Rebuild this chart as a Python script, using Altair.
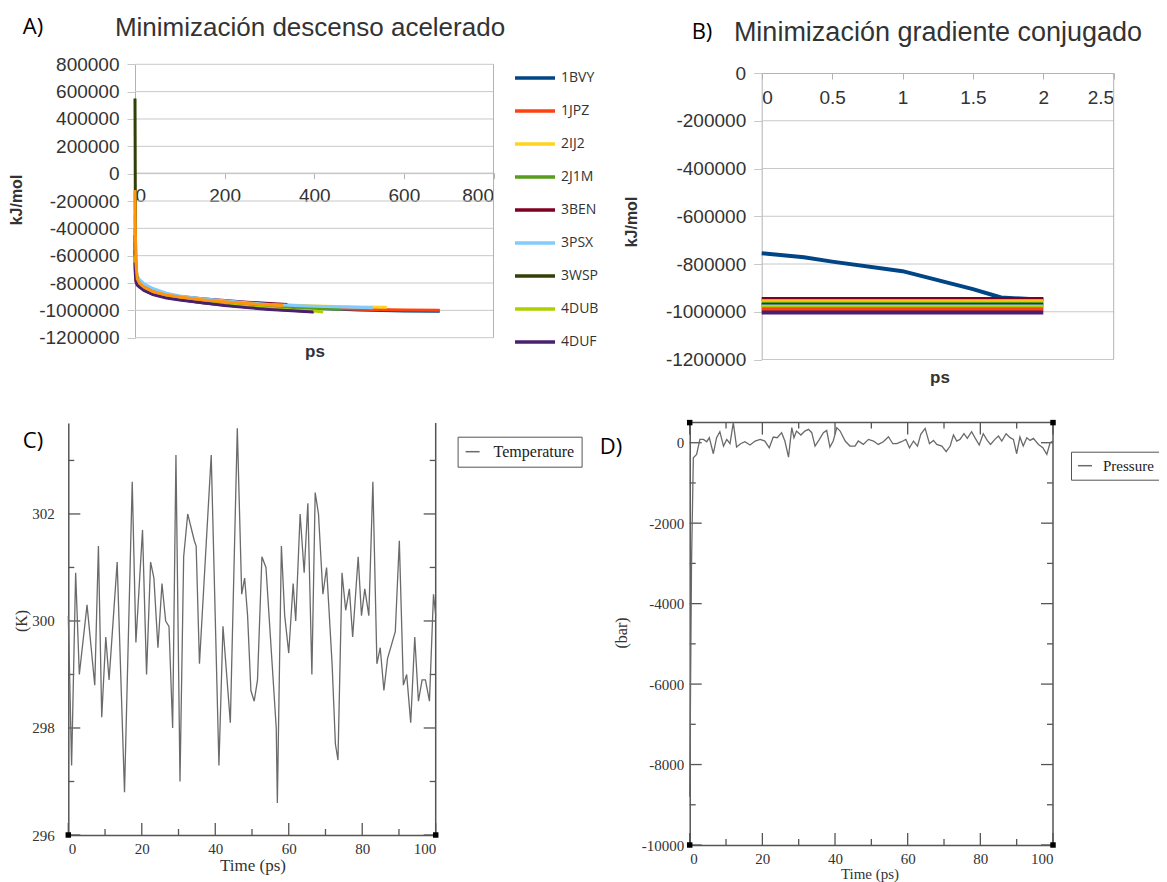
import altair as alt
import pandas as pd

W, H = 1151, 874

# ---------------- Panel A: Minimización descenso acelerado ----------------
A_names = ["1BVY", "1JPZ", "2IJ2", "2J1M", "3BEN", "3PSX", "3WSP", "4DUB", "4DUF", "Serie10"]
A_legend_names = ["1BVY", "1JPZ", "2IJ2", "2J1M", "3BEN", "3PSX", "3WSP", "4DUB", "4DUF"]
A_colors = ["#004586", "#ff420e", "#ffd320", "#579d1c", "#7e0021", "#83caff", "#314004", "#aecf00", "#4b1f6f", "#ff950e"]

A_t_1BVY = [0, 1, 2, 5, 10, 20, 40, 70, 100, 150, 200, 300, 400, 500, 600, 680]
A_v_1BVY = [-560000, -720000, -770000, -800000, -820000, -845000, -875000, -898000, -912000, -932000, -947000, -968000, -985000, -997000, -1004000, -1006000]
A_t_1JPZ = [0, 1, 2, 5, 10, 20, 40, 70, 100, 150, 200, 300, 400, 500, 600, 680]
A_v_1JPZ = [-500000, -700000, -760000, -795000, -815000, -840000, -870000, -893000, -908000, -928000, -944000, -965000, -982000, -992000, -998000, -1000000]
A_t_2IJ2 = [0, 1, 2, 5, 10, 20, 40, 70, 100, 150, 200, 300, 400, 500, 562]
A_v_2IJ2 = [-150000, -500000, -680000, -760000, -795000, -828000, -860000, -885000, -900000, -920000, -935000, -955000, -968000, -975000, -978000]
A_t_2J1M = [0, 1, 2, 5, 10, 20, 40, 70, 100, 150, 200, 300, 400, 460]
A_v_2J1M = [-400000, -650000, -740000, -790000, -812000, -840000, -870000, -895000, -910000, -930000, -945000, -968000, -985000, -992000]
A_t_3BEN = [0, 1, 2, 5, 10, 20, 40, 70, 100, 150, 200, 250, 300, 340]
A_v_3BEN = [-450000, -680000, -750000, -785000, -805000, -830000, -860000, -885000, -898000, -915000, -928000, -940000, -950000, -957000]
A_t_3PSX = [0, 1, 2, 5, 10, 20, 40, 70, 100, 150, 200, 300, 400, 531]
A_v_3PSX = [-300000, -600000, -700000, -750000, -775000, -805000, -840000, -875000, -895000, -915000, -930000, -958000, -970000, -980000]
A_t_3WSP = [0, 1, 2, 5, 10, 20, 40, 70, 100, 150, 200, 250, 300, 350, 400]
A_v_3WSP = [550000, -450000, -700000, -790000, -820000, -850000, -880000, -905000, -920000, -945000, -960000, -975000, -990000, -1000000, -1010000]
A_t_4DUB = [0, 1, 2, 5, 10, 20, 40, 70, 100, 150, 200, 250, 300, 350, 400, 420]
A_v_4DUB = [-600000, -740000, -780000, -805000, -825000, -850000, -880000, -905000, -918000, -940000, -958000, -972000, -985000, -997000, -1005000, -1012000]
A_t_4DUF = [0, 1, 2, 5, 10, 20, 40, 70, 100, 150, 200, 250, 300, 350, 398]
A_v_4DUF = [-650000, -750000, -790000, -815000, -830000, -855000, -885000, -910000, -925000, -945000, -965000, -980000, -993000, -1003000, -1012000]
A_t_S10 = [0, 1, 2, 5, 10, 20, 40, 70, 100, 150, 200, 250, 300, 330]
A_v_S10 = [-120000, -450000, -650000, -770000, -800000, -830000, -862000, -888000, -902000, -922000, -937000, -950000, -960000, -965000]

A_yticks = [-1200000, -1000000, -800000, -600000, -400000, -200000, 0, 200000, 400000, 600000, 800000]
A_xticks = [0, 200, 400, 600, 800]

# ---------------- Panel B: Minimización gradiente conjugado ----------------
B_t_1BVY = [0, 0.3, 0.5, 1.0, 1.5, 1.7, 2.0]
B_v_1BVY = [-755000, -772000, -790000, -830000, -905000, -940000, -950000]
B_t_flat = [0, 1, 2]
B_flat_names = ["3BEN", "Serie10", "2IJ2", "2J1M", "3WSP", "3PSX", "4DUB", "1JPZ", "4DUF"]
B_flat_values = [-947000, -955000, -960000, -966000, -972000, -978000, -984000, -990000, -1003000]
B_yticks = [-1200000, -1000000, -800000, -600000, -400000, -200000, 0]
B_xticks = [0, 0.5, 1, 1.5, 2, 2.5]

# ---------------- Panel C: Temperature ----------------
C_t = [0, 0.9, 2.0, 3.0, 5.1, 7.2, 8.2, 9.1, 10.2, 11.1, 13.3, 15.3, 17.4, 18.4, 20.2, 21.3, 22.4, 23.3,
       24.4, 25.5, 26.5, 27.4, 28.4, 29.3, 30.4, 31.4, 32.5, 34.3, 34.8, 35.7, 37.5, 38.9, 41.0, 42.1, 44.1,
       46.0, 47.2, 48.0, 48.8, 49.7, 50.6, 51.5, 52.7, 53.8, 56.6, 56.9, 58.0, 58.9, 60.0, 61.2, 61.9, 63.1,
       64.2, 65.2, 66.3, 67.2, 68.1, 69.3, 70.3, 71.8, 72.7, 73.4, 74.5, 75.5, 76.5, 77.4, 78.9, 79.8, 80.7,
       81.8, 82.9, 84.0, 84.9, 85.9, 86.9, 89.0, 90.1, 91.2, 92.1, 93.2, 94.3, 95.3, 96.3, 97.2, 98.3, 99.4, 100]
C_temp = [300.1, 297.3, 300.9, 299.0, 300.3, 298.8, 301.4, 298.2, 299.7, 298.9, 301.1, 296.8, 302.6, 299.6,
          301.7, 299.0, 301.1, 300.8, 299.5, 300.7, 300.0, 299.9, 298.0, 303.1, 297.0, 301.2, 302.0, 301.5,
          301.4, 299.2, 301.4, 303.1, 297.3, 299.9, 298.1, 303.6, 300.5, 300.8, 300.1, 298.7, 298.5, 298.9,
          301.2, 301.0, 298.0, 296.6, 301.4, 300.1, 299.4, 300.7, 300.0, 302.0, 300.9, 302.2, 299.0, 302.4,
          302.0, 300.5, 301.0, 299.2, 297.7, 297.4, 300.9, 300.2, 300.6, 299.7, 301.2, 300.1, 300.6, 300.1,
          302.6, 299.2, 299.5, 298.7, 299.3, 299.8, 301.5, 298.8, 299.0, 298.1, 299.7, 298.5, 298.9, 298.9,
          298.5, 300.5, 300.1]
C_yticks_major = [296, 298, 300, 302]
C_yticks_minor = [297, 299, 301, 303]
C_xticks_major = [0, 20, 40, 60, 80, 100]
C_xticks_minor = [10, 30, 50, 70, 90]

# ---------------- Panel D: Pressure ----------------
D_t = [0, 0.5, 1.0, 1.9, 2.8, 3.8, 4.7, 5.4, 6.5, 7.4, 8.3, 9.3, 10.2, 11.1, 12.0, 12.9, 14.0, 15.2, 16.6,
       18.0, 19.4, 20.7, 21.9, 23.0, 24.1, 25.3, 26.2, 27.2, 28.1, 28.7, 29.4, 30.6, 31.7, 32.7, 33.6, 34.5,
       35.7, 36.8, 37.7, 38.6, 39.5, 40.5, 41.4, 42.8, 44.1, 45.5, 46.4, 47.8, 49.2, 50.6, 51.9, 53.3, 54.7,
       55.9, 57.0, 58.3, 59.5, 60.5, 61.6, 62.7, 63.6, 64.8, 66.0, 67.1, 68.0, 69.4, 70.6, 71.7, 72.6, 73.5,
       74.4, 75.5, 76.4, 77.6, 78.5, 79.7, 80.8, 81.9, 82.8, 84.0, 85.0, 85.9, 87.1, 88.2, 89.1, 90.0, 90.9,
       91.8, 92.8, 93.7, 94.6, 96.0, 97.2, 98.3, 99.2, 100]
D_press = [-8800, -3000, -373, -290, 83, 83, 25, 125, -274, 125, 274, -83, 83, -25, 498, -108, -25, 25, -58,
           42, 83, 42, -125, 141, 125, 249, 42, -357, 374, 125, 290, 191, 290, 332, 249, -83,
           83, 249, 307, -108, 42, 374, 290, 42, -83, -83, 42, -42, 83, 42, -42, 25, 150,
           -25, -25, 25, 83, -125, 42, -83, 208, 357, -25, 58, -42, -83, -224, -83, 191, 42,
           83, 224, 108, 274, 125, -58, 224, 58, -42, 83, 166, 42, 224, 125, 83, -274, 141,
           -83, 125, 58, 108, -42, -125, -290, 0, 42]
D_yticks_major = [-10000, -8000, -6000, -4000, -2000, 0]
D_yticks_minor = [-9000, -7000, -5000, -3000, -1000]
D_xticks_major = [0, 20, 40, 60, 80, 100]
D_xticks_minor = [10, 30, 50, 70, 90]

# ---------------- build tables ----------------
A_table = {"1BVY": (A_t_1BVY, A_v_1BVY), "1JPZ": (A_t_1JPZ, A_v_1JPZ), "2IJ2": (A_t_2IJ2, A_v_2IJ2),
           "2J1M": (A_t_2J1M, A_v_2J1M), "3BEN": (A_t_3BEN, A_v_3BEN), "3PSX": (A_t_3PSX, A_v_3PSX),
           "3WSP": (A_t_3WSP, A_v_3WSP), "4DUB": (A_t_4DUB, A_v_4DUB), "4DUF": (A_t_4DUF, A_v_4DUF),
           "Serie10": (A_t_S10, A_v_S10)}
rows = []
for name, (ts, vs) in A_table.items():
    for t, v in zip(ts, vs):
        rows.append({"s": name, "t": t, "v": v})
dfA = pd.DataFrame(rows)

dfB_blue = pd.DataFrame({"s": "1BVY", "t": B_t_1BVY, "v": B_v_1BVY})
rows = []
for name, val in zip(B_flat_names, B_flat_values):
    for t in B_t_flat:
        rows.append({"s": name, "t": t, "v": val})
dfB_flat = pd.DataFrame(rows)

dfC = pd.DataFrame({"t": C_t, "T": C_temp, "s": "Temperature"})
dfD = pd.DataFrame({"t": D_t, "P": D_press, "s": "Pressure"})
dummy = pd.DataFrame({"d": [0]})

# ---------------- styles ----------------
SANS = "Liberation Sans"
SERIF = "Liberation Serif"
GRID = "#c8c8c8"
AXC = "#b3b3b3"
FRAME = "#555555"
TXT = "#333333"
LBL = "''+datum.value"

# panel pixel geometry (canvas coordinates)
xA = alt.Scale(domain=[0, 800], range=[127, 485.5], nice=False, zero=False)
yA = alt.Scale(domain=[-1200000, 800000], range=[329.7, 56.3], nice=False, zero=False)
A_zero_y = 164.7
xB = alt.Scale(domain=[0, 2.5], range=[753.7, 1105.7], nice=False, zero=False)
yB = alt.Scale(domain=[-1200000, 0], range=[351.5, 65], nice=False, zero=False)
xC = alt.Scale(domain=[0, 100], range=[60.3, 427.7], nice=False, zero=False)
yC = alt.Scale(domain=[296, 303.7], range=[827, 415], nice=False, zero=False)
xD = alt.Scale(domain=[0, 100], range=[681.7, 1045], nice=False, zero=False)
yD = alt.Scale(domain=[-10000, 500], range=[837, 414.6], nice=False, zero=False)

C_pxx = (427.7 - 60.3) / 100.0
C_pxy = (827 - 415) / 7.7
D_pxx = (1045 - 681.7) / 100.0
D_pxy = (837 - 414.6) / 10500.0
MAJ, MIN = 12, 6

layers = []

# ---- Panel A ----
axA_y = alt.Axis(orient="left", offset=-127, values=A_yticks, labelExpr=LBL, title=None, grid=False,
                 domainColor=AXC, tickColor=GRID, tickSize=8, labelPadding=8, labelFont=SANS,
                 labelFontSize=19, labelColor=TXT)
axA_x = alt.Axis(orient="bottom", offset=-(H - A_zero_y), values=A_xticks, labelExpr=LBL, title=None,
                 grid=False, domainColor=AXC, tickColor=AXC, tickSize=6, labelPadding=8, labelFont=SANS,
                 labelFontSize=19, labelColor=TXT, labelOverlap=False)
layers.append(alt.Chart(pd.DataFrame({"g": A_yticks})).mark_rule(color=GRID, strokeWidth=1).encode(
    y=alt.Y("g:Q", scale=yA, axis=axA_y),
    x=alt.XDatum(0, scale=xA, axis=None), x2=alt.X2Datum(800)))
layers.append(alt.Chart(dummy).mark_rule(color=AXC, strokeWidth=1).encode(
    x=alt.XDatum(800, scale=xA, axis=None),
    y=alt.YDatum(-1200000, scale=yA, axis=None), y2=alt.Y2Datum(800000)))
legA = alt.Legend(orient="none", legendX=505, legendY=54.5, title=None, values=A_legend_names,
                  symbolType="stroke", symbolSize=1600, symbolStrokeWidth=3.5, clipHeight=31, rowPadding=2,
                  labelFont="Open Sans", labelFontSize=14, labelColor=TXT, labelOffset=4, padding=0)
layers.append(alt.Chart(dfA).mark_line(strokeWidth=3).encode(
    x=alt.X("t:Q", scale=xA, axis=axA_x),
    y=alt.Y("v:Q", scale=yA, axis=None),
    color=alt.Color("s:N", scale=alt.Scale(domain=A_names, range=A_colors), legend=legA),
    order=alt.Order("t:Q")))

# ---- Panel B ----
axB_y = alt.Axis(orient="left", offset=-753.7, values=B_yticks, labelExpr=LBL, title=None, grid=False,
                 domainColor=AXC, tickColor=GRID, tickSize=8, labelPadding=8, labelFont=SANS,
                 labelFontSize=19, labelColor=TXT)
axB_x = alt.Axis(orient="bottom", offset=-(H - 65), values=B_xticks, labelExpr=LBL, title=None,
                 grid=False, domainColor=AXC, tickColor=AXC, tickSize=6, labelPadding=9, labelFont=SANS,
                 labelFontSize=19, labelColor=TXT, labelOverlap=False)
layers.append(alt.Chart(pd.DataFrame({"g": B_yticks[:-1]})).mark_rule(color=GRID, strokeWidth=1).encode(
    y=alt.Y("g:Q", scale=yB, axis=axB_y),
    x=alt.XDatum(0, scale=xB, axis=axB_x), x2=alt.X2Datum(2.5)))
layers.append(alt.Chart(dummy).mark_rule(color=AXC, strokeWidth=1).encode(
    x=alt.XDatum(2.5, scale=xB, axis=None),
    y=alt.YDatum(-1200000, scale=yB, axis=None), y2=alt.Y2Datum(0)))
layers.append(alt.Chart(dfB_blue).mark_line(strokeWidth=4).encode(
    x=alt.X("t:Q", scale=xB, axis=None),
    y=alt.Y("v:Q", scale=yB, axis=None),
    color=alt.Color("s:N", scale=alt.Scale(domain=A_names, range=A_colors), legend=None)))
layers.append(alt.Chart(dfB_flat).mark_line(strokeWidth=4).encode(
    x=alt.X("t:Q", scale=xB, axis=None),
    y=alt.Y("v:Q", scale=yB, axis=None),
    color=alt.Color("s:N", scale=alt.Scale(domain=A_names, range=A_colors), legend=None)))

# ---- Panel C ----
axC_y = alt.Axis(orient="left", offset=-60.3, values=C_yticks_major, labelExpr=LBL, title=None, grid=False,
                 ticks=False, domainColor=FRAME, domainWidth=1.5, labelPadding=14, labelFont=SERIF,
                 labelFontSize=15, labelColor=TXT)
axC_x = alt.Axis(orient="bottom", offset=-(H - 827), values=C_xticks_major, labelExpr=LBL, title=None,
                 grid=False, ticks=False, domainColor=FRAME, domainWidth=1.5, labelPadding=6, labelFont=SERIF,
                 labelFontSize=15, labelColor=TXT, labelOverlap=False)
tick_style = dict(color=FRAME, strokeWidth=1.3)
layers.append(alt.Chart(pd.DataFrame({"g": C_yticks_major})).mark_rule(**tick_style).encode(
    y=alt.Y("g:Q", scale=yC, axis=axC_y), x=alt.XDatum(0, scale=xC, axis=axC_x), x2=alt.X2Datum(MAJ / C_pxx)))
layers.append(alt.Chart(pd.DataFrame({"g": C_yticks_minor})).mark_rule(**tick_style).encode(
    y=alt.Y("g:Q", scale=yC, axis=None), x=alt.XDatum(0, scale=xC, axis=None), x2=alt.X2Datum(MIN / C_pxx)))
layers.append(alt.Chart(pd.DataFrame({"g": C_yticks_major})).mark_rule(**tick_style).encode(
    y=alt.Y("g:Q", scale=yC, axis=None), x=alt.XDatum(100 - MAJ / C_pxx, scale=xC, axis=None), x2=alt.X2Datum(100)))
layers.append(alt.Chart(pd.DataFrame({"g": C_yticks_minor})).mark_rule(**tick_style).encode(
    y=alt.Y("g:Q", scale=yC, axis=None), x=alt.XDatum(100 - MIN / C_pxx, scale=xC, axis=None), x2=alt.X2Datum(100)))
layers.append(alt.Chart(pd.DataFrame({"g": C_xticks_major})).mark_rule(**tick_style).encode(
    x=alt.X("g:Q", scale=xC, axis=None), y=alt.YDatum(296, scale=yC, axis=None), y2=alt.Y2Datum(296 + MAJ / C_pxy)))
layers.append(alt.Chart(pd.DataFrame({"g": C_xticks_minor})).mark_rule(**tick_style).encode(
    x=alt.X("g:Q", scale=xC, axis=None), y=alt.YDatum(296, scale=yC, axis=None), y2=alt.Y2Datum(296 + MIN / C_pxy)))
layers.append(alt.Chart(dummy).mark_rule(color=FRAME, strokeWidth=1.5).encode(
    x=alt.XDatum(100, scale=xC, axis=None), y=alt.YDatum(296, scale=yC, axis=None), y2=alt.Y2Datum(303.7)))
legC = alt.Legend(orient="none", legendX=449.6, legendY=428.7, title=None, symbolType="stroke",
                  symbolSize=196, symbolStrokeWidth=1.5, labelFont=SERIF, labelFontSize=16, labelColor="#222222",
                  labelOffset=13, padding=7, strokeColor=FRAME, fillColor="white")
layers.append(alt.Chart(dfC).mark_line(strokeWidth=1.3).encode(
    x=alt.X("t:Q", scale=xC, axis=None),
    y=alt.Y("T:Q", scale=yC, axis=None),
    color=alt.Color("s:N", scale=alt.Scale(range=["#6a6a6a"]), legend=legC)))
layers.append(alt.Chart(pd.DataFrame({"cx": [0, 100], "cy": [296, 296]})).mark_square(size=30, color="black", opacity=1).encode(
    x=alt.X("cx:Q", scale=xC, axis=None), y=alt.Y("cy:Q", scale=yC, axis=None)))

# ---- Panel D ----
axD_y = alt.Axis(orient="left", offset=-681.7, values=D_yticks_major, labelExpr=LBL, title=None, grid=False,
                 ticks=False, domainColor=FRAME, domainWidth=1.5, labelPadding=6, labelFont=SERIF,
                 labelFontSize=15, labelColor=TXT)
axD_x = alt.Axis(orient="bottom", offset=-(H - 837), values=D_xticks_major, labelExpr=LBL, title=None,
                 grid=False, ticks=False, domainColor=FRAME, domainWidth=1.5, labelPadding=6, labelFont=SERIF,
                 labelFontSize=15, labelColor=TXT, labelOverlap=False)
layers.append(alt.Chart(pd.DataFrame({"g": D_yticks_major})).mark_rule(**tick_style).encode(
    y=alt.Y("g:Q", scale=yD, axis=axD_y), x=alt.XDatum(0, scale=xD, axis=axD_x), x2=alt.X2Datum(MAJ / D_pxx)))
layers.append(alt.Chart(pd.DataFrame({"g": D_yticks_minor})).mark_rule(**tick_style).encode(
    y=alt.Y("g:Q", scale=yD, axis=None), x=alt.XDatum(0, scale=xD, axis=None), x2=alt.X2Datum(MIN / D_pxx)))
layers.append(alt.Chart(pd.DataFrame({"g": D_yticks_major})).mark_rule(**tick_style).encode(
    y=alt.Y("g:Q", scale=yD, axis=None), x=alt.XDatum(100 - MAJ / D_pxx, scale=xD, axis=None), x2=alt.X2Datum(100)))
layers.append(alt.Chart(pd.DataFrame({"g": D_yticks_minor})).mark_rule(**tick_style).encode(
    y=alt.Y("g:Q", scale=yD, axis=None), x=alt.XDatum(100 - MIN / D_pxx, scale=xD, axis=None), x2=alt.X2Datum(100)))
layers.append(alt.Chart(pd.DataFrame({"g": D_xticks_major})).mark_rule(**tick_style).encode(
    x=alt.X("g:Q", scale=xD, axis=None), y=alt.YDatum(-10000, scale=yD, axis=None), y2=alt.Y2Datum(-10000 + MAJ / D_pxy)))
layers.append(alt.Chart(pd.DataFrame({"g": D_xticks_minor})).mark_rule(**tick_style).encode(
    x=alt.X("g:Q", scale=xD, axis=None), y=alt.YDatum(-10000, scale=yD, axis=None), y2=alt.Y2Datum(-10000 + MIN / D_pxy)))
layers.append(alt.Chart(pd.DataFrame({"g": D_xticks_major})).mark_rule(**tick_style).encode(
    x=alt.X("g:Q", scale=xD, axis=None), y=alt.YDatum(500 - MAJ / D_pxy, scale=yD, axis=None), y2=alt.Y2Datum(500)))
layers.append(alt.Chart(pd.DataFrame({"g": D_xticks_minor})).mark_rule(**tick_style).encode(
    x=alt.X("g:Q", scale=xD, axis=None), y=alt.YDatum(500 - MIN / D_pxy, scale=yD, axis=None), y2=alt.Y2Datum(500)))
layers.append(alt.Chart(dummy).mark_rule(color=FRAME, strokeWidth=1.5).encode(
    x=alt.XDatum(100, scale=xD, axis=None), y=alt.YDatum(-10000, scale=yD, axis=None), y2=alt.Y2Datum(500)))
layers.append(alt.Chart(dummy).mark_rule(color=FRAME, strokeWidth=1.5).encode(
    y=alt.YDatum(500, scale=yD, axis=None), x=alt.XDatum(0, scale=xD, axis=None), x2=alt.X2Datum(100)))
legD = alt.Legend(orient="none", legendX=1063, legendY=443.7, title=None, symbolType="stroke",
                  symbolSize=196, symbolStrokeWidth=1.5, labelFont=SERIF, labelFontSize=15, labelColor="#222222",
                  labelOffset=10, padding=6, strokeColor=FRAME, fillColor="white")
layers.append(alt.Chart(dfD).mark_line(strokeWidth=1.3).encode(
    x=alt.X("t:Q", scale=xD, axis=None),
    y=alt.Y("P:Q", scale=yD, axis=None),
    color=alt.Color("s:N", scale=alt.Scale(range=["#6a6a6a"]), legend=legD)))
layers.append(alt.Chart(pd.DataFrame({"cx": [0, 100, 0, 100], "cy": [-10000, -10000, 500, 500]})).mark_square(
    size=30, color="black", opacity=1).encode(
    x=alt.X("cx:Q", scale=xD, axis=None), y=alt.Y("cy:Q", scale=yD, axis=None)))


# ---- texts ----
def label(text, x, y, size, font, color=TXT, weight="normal", angle=0):
    return alt.Chart(dummy).mark_text(text=text, fontSize=size, font=font, color=color, fontWeight=weight,
                                      angle=angle, align="center", baseline="middle").encode(
        x=alt.value(x), y=alt.value(y))


layers += [
    label("A)", 25, 19, 22, "Open Sans", color="#000000"),
    label("Minimización descenso acelerado", 302, 20, 26, SANS),
    label("kJ/mol", 9, 192, 16, SANS, weight="bold", angle=270),
    label("ps", 307, 344, 17, SANS, weight="bold"),
    label("B)", 694, 24, 22, "Open Sans", color="#000000"),
    label("Minimización gradiente conjugado", 930, 25, 27, SANS),
    label("kJ/mol", 624, 214, 16, SANS, weight="bold", angle=270),
    label("ps", 932, 370, 17, SANS, weight="bold"),
    label("C)", 25, 433, 22, "Open Sans", color="#000000"),
    label("(K)", 14, 613, 16, SERIF, angle=270),
    label("Time (ps)", 245, 858, 17, SERIF),
    label("D)", 603, 439, 22, "Open Sans", color="#000000"),
    label("(bar)", 614, 625, 16, SERIF, angle=270),
    label("Time (ps)", 862, 866, 15, SERIF),
]

chart = alt.layer(*layers).resolve_scale(
    x="independent", y="independent", color="independent"
).resolve_axis(x="independent", y="independent").resolve_legend(color="independent").properties(
    width=W, height=H, autosize=alt.AutoSizeParams(type="none"), padding=0, background="white"
).configure_view(stroke=None)

chart.save("out.html", embed_options={"renderer": "svg", "actions": False})
